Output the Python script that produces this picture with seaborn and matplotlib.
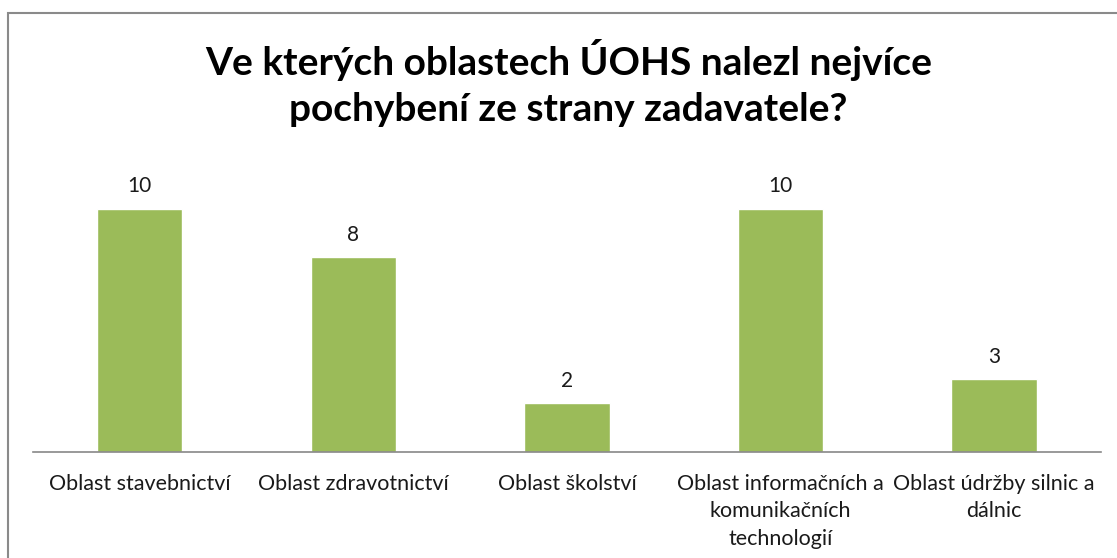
import matplotlib
matplotlib.use("Agg")
import matplotlib.pyplot as plt
from matplotlib.patches import Rectangle
import pandas as pd
import seaborn as sns

# %% DATA
categories = [
    "Oblast stavebnictví",
    "Oblast zdravotnictví",
    "Oblast školství",
    "Oblast informačních a\nkomunikačních\ntechnologií",
    "Oblast údržby silnic a\ndálnic",
]
values = [10, 8, 2, 10, 3]
title = "Ve kterých oblastech ÚOHS nalezl nejvíce\npochybení ze strany zadavatele?"

df = pd.DataFrame({"oblast": categories, "pocet": values})

# %% PLOT
sns.set_theme(style="white")
plt.rcParams["font.family"] = ["Lato", "DejaVu Sans"]

fig = plt.figure(figsize=(11.17, 5.58), dpi=100)
ax = fig.add_axes([0.0295, 0.19, 0.956, 0.523])

sns.barplot(data=df, x="oblast", y="pocet", color="#9BBB59", width=0.4,
            saturation=1, ax=ax)

for c in ax.containers:
    ax.bar_label(c, padding=9, fontsize=15, color="#1a1a1a")

ax.set_ylim(0, 12)
ax.set_xlim(-0.5, len(categories) - 0.5)
ax.set_xlabel("")
ax.set_ylabel("")
ax.set_yticks([])
for s in ["top", "left", "right"]:
    ax.spines[s].set_visible(False)
ax.spines["bottom"].set_color("#888888")
ax.spines["bottom"].set_linewidth(1.2)
ax.tick_params(axis="x", length=0, pad=16, labelsize=15.5, labelcolor="#1a1a1a")
for lab in ax.get_xticklabels():
    lab.set_linespacing(1.45)

fig.text(0.509, 0.851, title, ha="center", va="center", fontsize=28,
         fontweight="bold", color="black", linespacing=1.4)

# chart border
fig.patches.append(Rectangle((0.0075, -0.1), 1.2, 1.077, transform=fig.transFigure,
                             fill=False, edgecolor="#8a8a8a", linewidth=1.5))

fig.savefig("out.png", dpi=100)
